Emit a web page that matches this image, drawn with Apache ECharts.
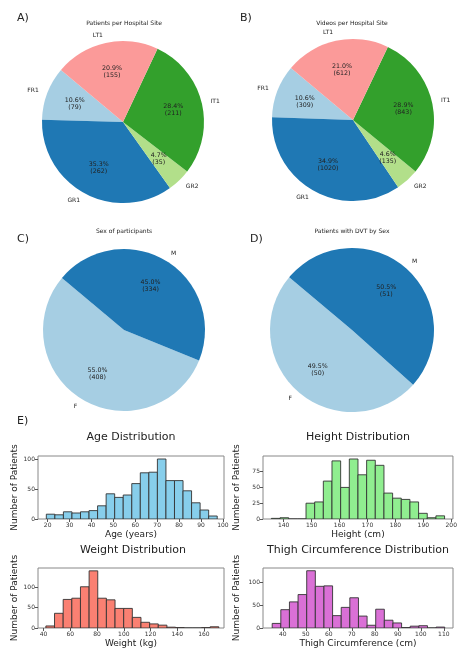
<!DOCTYPE html>
<html>
<head>
<meta charset="utf-8">
<script src="https://cdn.jsdelivr.net/npm/echarts@6/dist/echarts.min.js"></script>
<style>
  html, body { margin: 0; padding: 0; background: #fff; }
  #main { width: 460px; height: 649px; }
</style>
</head>
<body>
<div id="main"></div>
<script>
// pie data
var siteNames = ['FR1', 'GR1', 'GR2', 'IT1', 'LT1'];
var patientsPerSite = [79, 262, 35, 211, 155];
var videosPerSite = [309, 1020, 135, 843, 612];
var sexNames = ['F', 'M'];
var sexCounts = [408, 334];
var dvtBySex = [50, 51];

// histogram data (bin range + counts per bin, 20 bins)
var ageRange = [19.4, 97.4];
var ageCounts = [8, 7, 12, 10, 12, 14, 22, 42, 36, 40, 59, 77, 78, 100, 64, 64, 47, 27, 15, 5];
var heightRange = [135.6, 197.6];
var heightCounts = [1, 2, 0, 0, 25, 27, 60, 92, 50, 95, 70, 93, 85, 41, 33, 31, 27, 9, 2, 5];
var weightRange = [41.7, 171.1];
var weightCounts = [5, 36, 70, 73, 101, 140, 73, 69, 48, 48, 26, 14, 10, 7, 2, 1, 0, 0, 1, 3];
var thighRange = [35.4, 110.4];
var thighCounts = [10, 40, 57, 73, 125, 91, 92, 27, 45, 66, 26, 6, 41, 17, 11, 1, 4, 5, 0, 2];

// tick labels
var ageTicks = [20, 30, 40, 50, 60, 70, 80, 90, 100];
var ageYTicks = [0, 50, 100];
var heightTicks = [140, 150, 160, 170, 180, 190, 200];
var heightYTicks = [0, 25, 50, 75];
var weightTicks = [40, 60, 80, 100, 120, 140, 160];
var weightYTicks = [0, 50, 100];
var thighTicks = [40, 50, 60, 70, 80, 90, 100, 110];
var thighYTicks = [0, 50, 100];

var siteColors = ['#a6cee3', '#1f78b4', '#b2df8a', '#33a02c', '#fb9a99'];
var sexColors = ['#a6cee3', '#1f78b4'];
var FONT = 'DejaVu Sans';

var chart = echarts.init(document.getElementById('main'));

function makePie(center, r, names, values, colors) {
  var total = values.reduce(function (a, b) { return a + b; }, 0);
  var data = names.map(function (n, i) {
    return { name: n, value: values[i], itemStyle: { color: colors[i] } };
  });
  var outer = {
    type: 'pie', center: center, radius: [0, r],
    startAngle: 140, clockwise: false, avoidLabelOverlap: false,
    silent: true, animation: false,
    data: data,
    label: { position: 'outside', formatter: '{b}', fontSize: 6, color: '#222',
      fontFamily: FONT, distanceToLabelLine: 1 },
    labelLine: { show: false, length: r * 0.1, length2: 0 }
  };
  // transparent copy, 1.2x radius so inside labels sit at 0.6 r
  var inner = {
    type: 'pie', center: center, radius: [0, r * 1.2],
    startAngle: 140, clockwise: false, avoidLabelOverlap: false,
    silent: true, animation: false,
    data: names.map(function (n, i) {
      return { name: n, value: values[i], itemStyle: { color: 'rgba(0,0,0,0)' } };
    }),
    label: { position: 'inside', fontSize: 6.3, color: '#222', fontFamily: FONT, lineHeight: 7,
      formatter: function (p) {
        return (p.value / total * 100).toFixed(1) + '%\n(' + p.value + ')';
      } },
    labelLine: { show: false }
  };
  return [outer, inner];
}

function binData(range, counts) {
  var w = (range[1] - range[0]) / counts.length;
  return counts.map(function (c, i) {
    return [range[0] + i * w, range[0] + (i + 1) * w, c];
  });
}

function histSeries(idx, range, counts, color) {
  return {
    type: 'custom', xAxisIndex: idx, yAxisIndex: idx, animation: false,
    data: binData(range, counts),
    encode: { x: [0, 1], y: 2 },
    clip: true,
    renderItem: function (params, api) {
      var p0 = api.coord([api.value(0), api.value(2)]);
      var p1 = api.coord([api.value(1), 0]);
      return {
        type: 'rect',
        shape: { x: p0[0], y: p0[1], width: p1[0] - p0[0], height: p1[1] - p0[1] },
        style: { fill: color, stroke: '#333', lineWidth: 0.9 }
      };
    }
  };
}

function xAx(idx, min, max, ticks, name) {
  return {
    type: 'value', gridIndex: idx, min: min, max: max,
    name: name, nameLocation: 'middle', nameGap: 11,
    nameTextStyle: { fontSize: 9, color: '#222', fontFamily: FONT },
    axisLine: { show: false }, splitLine: { show: false },
    axisTick: { show: true, inside: false, length: 3, lineStyle: { color: '#555' }, customValues: ticks },
    axisLabel: { fontSize: 6, color: '#333', margin: 3, fontFamily: FONT, customValues: ticks }
  };
}

function yAx(idx, max, ticks, gap) {
  return {
    type: 'value', gridIndex: idx, min: 0, max: max,
    name: 'Number of Patients', nameLocation: 'middle', nameGap: gap, nameRotate: 90,
    nameTextStyle: { fontSize: 9, color: '#222', fontFamily: FONT },
    axisLine: { show: false }, splitLine: { show: false },
    axisTick: { show: true, length: 3, lineStyle: { color: '#555' }, customValues: ticks },
    axisLabel: { fontSize: 6, color: '#333', margin: 3, fontFamily: FONT, customValues: ticks }
  };
}

var gridStyle = { show: true, borderColor: '#888', borderWidth: 1, backgroundColor: 'transparent' };

function t(text, x, y, size, align) {
  return { text: text, left: x, top: y, textAlign: align || 'left', padding: 0,
    textStyle: { fontSize: size, fontWeight: 'normal', color: '#222', fontFamily: FONT } };
}

var series = []
  .concat(makePie([123, 122], 81, siteNames, patientsPerSite, siteColors))
  .concat(makePie([353, 120], 81, siteNames, videosPerSite, siteColors))
  .concat(makePie([124, 330], 81, sexNames, sexCounts, sexColors))
  .concat(makePie([352, 330], 82, sexNames, dvtBySex, sexColors))
  .concat([
    histSeries(0, ageRange, ageCounts, '#87ceeb'),
    histSeries(1, heightRange, heightCounts, '#90ee90'),
    histSeries(2, weightRange, weightCounts, '#fa8072'),
    histSeries(3, thighRange, thighCounts, '#da70d6')
  ]);

var option = {
  backgroundColor: '#fff',
  animation: false,
  title: [
    t('A)', 17, 13, 11), t('B)', 240, 13, 11), t('C)', 17, 234, 11), t('D)', 250, 234, 11), t('E)', 17, 416, 11),
    t('Patients per Hospital Site', 124, 20, 6, 'center'),
    t('Videos per Hospital Site', 352, 20, 6, 'center'),
    t('Sex of participants', 124, 228, 6, 'center'),
    t('Patients with DVT by Sex', 352, 228, 6, 'center'),
    t('Age Distribution', 131, 432, 11, 'center'),
    t('Height Distribution', 358, 432, 11, 'center'),
    t('Weight Distribution', 133, 545, 11, 'center'),
    t('Thigh Circumference Distribution', 358, 545, 11, 'center')
  ],
  grid: [
    Object.assign({ left: 38, top: 456, width: 186, height: 63 }, gridStyle),
    Object.assign({ left: 263, top: 456, width: 190, height: 63 }, gridStyle),
    Object.assign({ left: 38, top: 568, width: 186, height: 62 }, gridStyle),
    Object.assign({ left: 263, top: 568, width: 190, height: 62 }, gridStyle)
  ],
  xAxis: [
    xAx(0, 15.6, 100.5, ageTicks, 'Age (years)'),
    xAx(1, 132.6, 200.6, heightTicks, 'Height (cm)'),
    xAx(2, 35.8, 175, weightTicks, 'Weight (kg)'),
    xAx(3, 31.4, 114, thighTicks, 'Thigh Circumference (cm)')
  ],
  yAxis: [
    yAx(0, 105, ageYTicks, 17),
    yAx(1, 99.75, heightYTicks, 22),
    yAx(2, 147, weightYTicks, 17),
    yAx(3, 131, thighYTicks, 22)
  ],
  series: series
};

chart.setOption(option);
</script>
</body>
</html>
